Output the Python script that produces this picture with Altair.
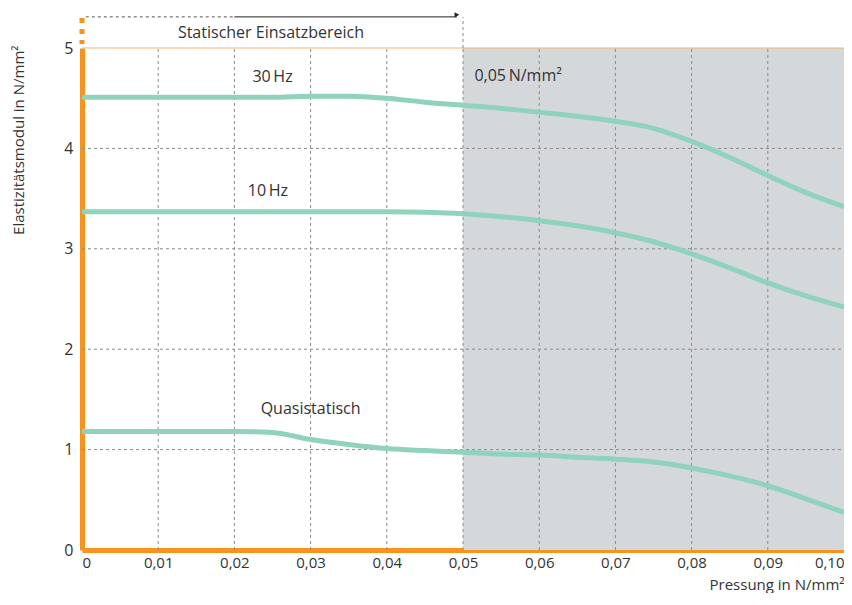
import altair as alt
import pandas as pd

# ---- data ----
pressure = [0, 0.01, 0.02, 0.025, 0.03, 0.035, 0.04, 0.045, 0.05, 0.055,
            0.06, 0.065, 0.07, 0.075, 0.08, 0.085, 0.09, 0.095, 0.10]
hz30 = [4.51, 4.51, 4.51, 4.51, 4.52, 4.52, 4.50, 4.46, 4.43, 4.40,
        4.36, 4.32, 4.27, 4.20, 4.07, 3.91, 3.73, 3.56, 3.42]
hz10 = [3.37, 3.37, 3.37, 3.37, 3.37, 3.37, 3.37, 3.365, 3.35, 3.32,
        3.28, 3.23, 3.16, 3.07, 2.95, 2.81, 2.66, 2.53, 2.42]
quasi = [1.18, 1.18, 1.18, 1.17, 1.10, 1.05, 1.01, 0.99, 0.974, 0.955,
         0.945, 0.925, 0.905, 0.876, 0.817, 0.738, 0.64, 0.51, 0.374]

x_ticks = [0, 0.01, 0.02, 0.03, 0.04, 0.05, 0.06, 0.07, 0.08, 0.09, 0.10]
y_ticks = [0, 1, 2, 3, 4, 5]

static_limit = 0.05
x_max = 0.10
y_max = 5
arrow_level = 5.31

labels = ["30\u2009Hz", "10\u2009Hz", "Quasistatisch", "0,05\u2009N/mm²", "Statischer Einsatzbereich"]
label_x = [0.025, 0.0244, 0.030, 0.0515, 0.0248]
label_y = [4.71, 3.58, 1.40, 4.72, 5.15]
label_align = ["center", "center", "center", "left", "center"]

FONT = "Open Sans"
FS = 16
TXT = "#333333"
ORANGE = "#f7941d"
MINT = "#8fd3bc"

rows = []
for name, vals in [("30 Hz", hz30), ("10 Hz", hz10), ("Quasistatisch", quasi)]:
    for p, v in zip(pressure, vals):
        rows.append({"p": p, "E": v, "s": name})
curves = pd.DataFrame(rows)

W, H = 762, 502
xs = alt.Scale(domain=[0, x_max], nice=False, zero=False)
ys = alt.Scale(domain=[0, y_max], nice=False)

base = alt.Chart(curves)

shade = alt.Chart(pd.DataFrame({"a": [static_limit], "b": [x_max], "y0": [0], "y1": [y_max]})).mark_rect(
    color="#d5d8db").encode(
    x=alt.X("a:Q", scale=xs,
            axis=alt.Axis(values=x_ticks, ticks=False, grid=False,
                          domainColor=ORANGE, domainWidth=5,
                          labelExpr="datum.value == 0 ? '0' : replace(format(datum.value, '.2f'), '.', ',')",
                          labelFont=FONT, labelFontSize=15, labelColor=TXT, labelPadding=5,
                          labelFlush=True,
                          title="Pressung in N/mm²", titleFont=FONT, titleFontSize=15,
                          titleFontWeight="normal", titleColor=TXT,
                          titleAlign="right", titleAnchor="end", titleX=W, titleY=39,
                          titleBaseline="alphabetic")),
    x2="b:Q",
    y=alt.Y("y0:Q", scale=ys,
            axis=alt.Axis(values=y_ticks, ticks=False, grid=False,
                          domainColor=ORANGE, domainWidth=5, format="d",
                          labelFont=FONT, labelFontSize=FS, labelColor=TXT, labelPadding=9,
                          title="Elastizitätsmodul in N/mm²", titleFont=FONT, titleFontSize=15,
                          titleFontWeight="normal", titleColor=TXT,
                          titleAngle=270, titleAlign="right", titleBaseline="middle",
                          titleX=-64, titleY=-3)),
    y2="y1:Q",
)

vgrid = alt.Chart(pd.DataFrame({"x": x_ticks[1:-1]})).mark_rule(
    color="#8a8a8a", strokeWidth=1, strokeDash=[3, 3]).encode(
    x=alt.X("x:Q", scale=xs), y=alt.datum(0, scale=ys), y2=alt.datum(y_max))

hgrid = alt.Chart(pd.DataFrame({"y": y_ticks[1:-1]})).mark_rule(
    color="#8a8a8a", strokeWidth=1, strokeDash=[3, 3]).encode(
    y=alt.Y("y:Q", scale=ys), x=alt.datum(0, scale=xs), x2=alt.datum(x_max))

topline = alt.Chart(pd.DataFrame({"y": [y_max]})).mark_rule(
    color="#f5b46a", strokeWidth=1.2).encode(
    y=alt.Y("y:Q", scale=ys), x=alt.datum(0, scale=xs), x2=alt.datum(x_max))

lines = base.mark_line(strokeWidth=5, interpolate="monotone", color=MINT).encode(
    x=alt.X("p:Q", scale=xs), y=alt.Y("E:Q", scale=ys), detail="s:N")

# decorations above plot
ext = alt.Chart(pd.DataFrame({"x": [0], "ya": [y_max + 0.04], "yb": [arrow_level - 0.01]})).mark_rule(
    color=ORANGE, strokeWidth=5, strokeDash=[5, 6]).encode(
    x=alt.X("x:Q", scale=xs), y=alt.Y("yb:Q", scale=ys), y2="ya:Q")

vdash = alt.Chart(pd.DataFrame({"x": [static_limit], "ya": [y_max], "yb": [arrow_level]})).mark_rule(
    color="#8a8a8a", strokeWidth=1, strokeDash=[3, 3]).encode(
    x=alt.X("x:Q", scale=xs), y=alt.Y("ya:Q", scale=ys), y2="yb:Q")

hdash = alt.Chart(pd.DataFrame({"a": [0.0005], "b": [0.020], "y": [arrow_level]})).mark_rule(
    color="#555555", strokeWidth=1, strokeDash=[3, 3]).encode(
    x=alt.X("a:Q", scale=xs), x2="b:Q", y=alt.Y("y:Q", scale=ys))

hsolid = alt.Chart(pd.DataFrame({"a": [0.020], "b": [static_limit - 0.0008], "y": [arrow_level]})).mark_rule(
    color="#222222", strokeWidth=1).encode(
    x=alt.X("a:Q", scale=xs), x2="b:Q", y=alt.Y("y:Q", scale=ys))

head = alt.Chart(pd.DataFrame({"x": [static_limit - 0.0008], "y": [arrow_level + 0.02]})).mark_point(
    shape="triangle-right", filled=True, color="#222222", size=30, opacity=1).encode(
    x=alt.X("x:Q", scale=xs), y=alt.Y("y:Q", scale=ys))

lab = pd.DataFrame({"t": labels, "x": label_x, "y": label_y, "al": label_align})
texts_c = alt.Chart(lab[lab.al == "center"]).mark_text(
    font=FONT, fontSize=FS, color=TXT, align="center", baseline="middle").encode(
    x=alt.X("x:Q", scale=xs), y=alt.Y("y:Q", scale=ys), text="t:N")
texts_l = alt.Chart(lab[lab.al == "left"]).mark_text(
    font=FONT, fontSize=FS, color=TXT, align="left", baseline="middle").encode(
    x=alt.X("x:Q", scale=xs), y=alt.Y("y:Q", scale=ys), text="t:N")

chart = alt.layer(shade, vgrid, hgrid, topline, lines, ext, vdash, hdash, hsolid, head,
                  texts_c, texts_l).properties(
    width=W, height=H,
    autosize=alt.AutoSizeParams(type="none"),
    padding={"left": 74, "top": 40, "right": 0, "bottom": 43},
    background="white",
).configure_view(stroke=None)

chart.save("out.html", embed_options={"renderer": "svg", "actions": False})
